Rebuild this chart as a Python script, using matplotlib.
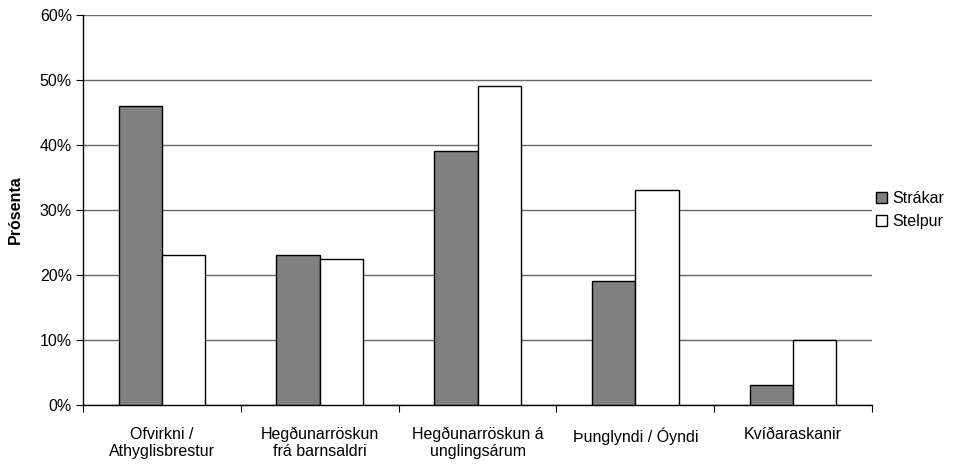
import numpy as np
import matplotlib.pyplot as plt
from matplotlib.ticker import FuncFormatter

plt.rcParams['font.family'] = ['Liberation Sans', 'DejaVu Sans']

flokkar = ['Ofvirkni /\nAthyglisbrestur', 'Hegðunarröskun\nfrá barnsaldri',
           'Hegðunarröskun á\nunglingsárum', 'Þunglyndi / Óyndi', 'Kvíðaraskanir']
strakar = [46, 23, 39, 19, 3]
stelpur = [23, 22.5, 49, 33, 10]

fig = plt.figure(figsize=(9.55, 4.66), dpi=100)
ax = fig.add_axes([0.087, 0.131, 0.826, 0.837])

x = np.arange(len(flokkar))
w = 0.275
ax.bar(x - w/2, strakar, w, color='#808080', edgecolor='black', linewidth=1, label='Strákar', zorder=3)
ax.bar(x + w/2, stelpur, w, color='white', edgecolor='black', linewidth=1, label='Stelpur', zorder=3)

ax.set_xlim(-0.5, len(flokkar) - 0.5)
ax.set_ylim(0, 60)
ax.set_yticks(np.arange(0, 61, 10))
ax.yaxis.set_major_formatter(FuncFormatter(lambda v, p: f'{v:.0f}%'))
ax.grid(axis='y', color='#666666', linewidth=1, zorder=0)

ax.set_xticks(np.arange(-0.5, len(flokkar), 1))
ax.set_xticklabels([])
ax.set_xticks(x, minor=True)
ax.set_xticklabels(flokkar, minor=True, fontsize=11.5, linespacing=1.15)
ax.tick_params(axis='x', which='minor', length=0, pad=16)
ax.tick_params(axis='x', which='major', length=5, direction='out')
ax.tick_params(axis='y', length=5, labelsize=11.5, pad=3)

for s in ['top', 'right']:
    ax.spines[s].set_visible(False)
ax.spines['left'].set_linewidth(1)
ax.spines['bottom'].set_linewidth(1)

ax.set_ylabel('Prósenta', fontsize=11.5, fontweight='bold', labelpad=12)

ax.legend(loc='center left', bbox_to_anchor=(0.995, 0.5), frameon=False, fontsize=11.5,
          handlelength=0.7, handleheight=0.7, handletextpad=0.3, labelspacing=0.5,
          borderaxespad=0.1)

fig.savefig('out.png', dpi=100)
